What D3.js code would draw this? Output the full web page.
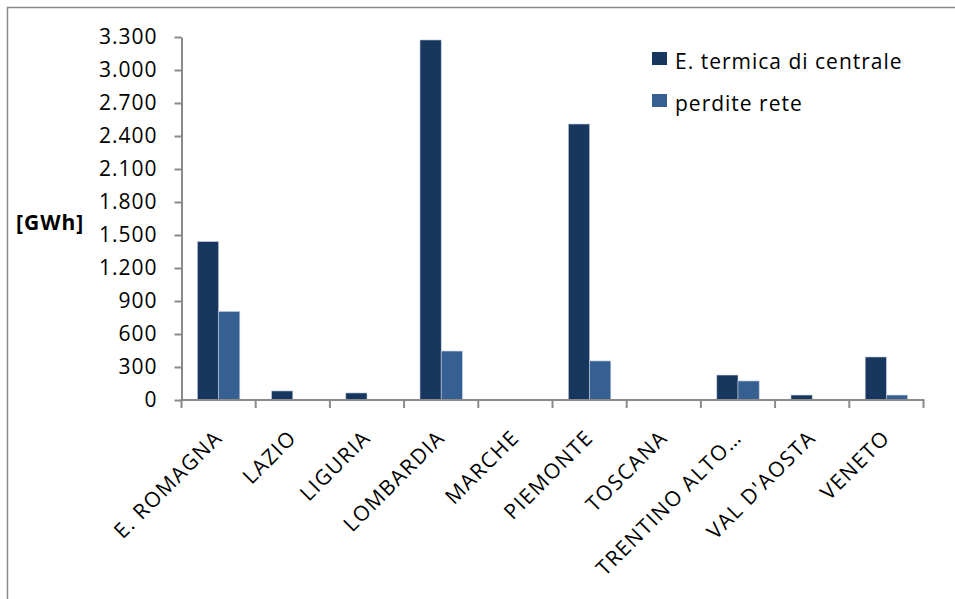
<!DOCTYPE html>
<html>
<head>
<meta charset="utf-8">
<script src="https://cdn.jsdelivr.net/npm/d3@7"></script>
<style>
  html, body { margin: 0; padding: 0; background: #fff; }
  svg { display: block; font-family: "Open Sans", Lato, sans-serif; }
</style>
</head>
<body>
<svg id="chart" width="955" height="599"></svg>
<script>
// Regions and series (GWh)
const regions = ["E. ROMAGNA", "LAZIO", "LIGURIA", "LOMBARDIA", "MARCHE", "PIEMONTE", "TOSCANA", "TRENTINO ALTO…", "VAL D'AOSTA", "VENETO"];
const seriesNames = ["E. termica di centrale", "perdite rete"];
const termica = [1440, 82, 64, 3273, 2, 2509, 0, 227, 45, 391];
const perdite = [805, 3, 3, 445, 2, 355, 0, 173, 3, 45];
const yTicks = [0, 300, 600, 900, 1200, 1500, 1800, 2100, 2400, 2700, 3000, 3300];
const seriesColors = ["#17375E", "#376092"];

const values = [termica, perdite];
const rows = regions.map((r, i) => ({ region: r, vals: seriesNames.map((s, k) => ({ key: s, value: values[k][i], k })) }));

const svg = d3.select("#chart");
const plotLeft = 181.5, plotRight = 923.5, plotTop = 37, plotBottom = 400;

// Outer chart frame
svg.append("rect")
  .attr("x", 7.5).attr("y", 7.5)
  .attr("width", 1200).attr("height", 1200)
  .attr("fill", "none").attr("stroke", "#8a8a8a").attr("stroke-width", 1.5);

const x0 = d3.scaleBand().domain(regions).range([plotLeft, plotRight]).paddingInner(0).paddingOuter(0);
const x1 = d3.scaleBand().domain(seriesNames).range([0, x0.bandwidth()]).paddingInner(0).paddingOuter(0.75);
const y = d3.scaleLinear().domain([0, 3300]).range([plotBottom, plotTop]);

const locale = d3.formatLocale({ decimal: ",", thousands: ".", grouping: [3], currency: ["", ""] });
const fmt = locale.format(",");

// Bars
const groups = svg.append("g").selectAll("g").data(rows).join("g")
  .attr("transform", d => `translate(${x0(d.region)},0)`);
groups.selectAll("rect").data(d => d.vals).join("rect")
  .attr("x", d => x1(d.key))
  .attr("y", d => y(d.value))
  .attr("width", x1.bandwidth())
  .attr("height", d => y(0) - y(d.value))
  .attr("fill", d => seriesColors[d.k])
  .attr("stroke", "#c3cedd").attr("stroke-width", 0.6);

// Y axis
const yAxis = svg.append("g")
  .attr("transform", `translate(${plotLeft},0)`)
  .call(d3.axisLeft(y).tickValues(yTicks).tickFormat(fmt).tickSize(7).tickPadding(17).tickSizeOuter(0))
  .attr("font-family", null).attr("font-size", null);
yAxis.select(".domain").attr("stroke", "#8a8a8a").attr("stroke-width", 2);
yAxis.selectAll(".tick line").attr("stroke", "#8a8a8a").attr("stroke-width", 2);
yAxis.selectAll(".tick text")
  .attr("font-size", 21).attr("letter-spacing", 1).attr("fill", "#000");

// X axis with ticks on category boundaries
const boundaries = regions.map(r => x0(r)).concat([plotRight]);
const xAxis = svg.append("g");
xAxis.append("line")
  .attr("x1", plotLeft - 1).attr("x2", plotRight + 1)
  .attr("y1", plotBottom).attr("y2", plotBottom)
  .attr("stroke", "#8a8a8a").attr("stroke-width", 2);
xAxis.selectAll("line.tk").data(boundaries).join("line")
  .attr("class", "tk")
  .attr("x1", d => d).attr("x2", d => d)
  .attr("y1", plotBottom).attr("y2", plotBottom + 8)
  .attr("stroke", "#8a8a8a").attr("stroke-width", 2);
xAxis.selectAll("text").data(regions).join("text")
  .attr("transform", d => `translate(${x0(d) + x0.bandwidth() / 2 + 5},${plotBottom + 39}) rotate(-45)`)
  .attr("text-anchor", "end")
  .attr("font-size", 21)
  .attr("letter-spacing", 1.4)
  .attr("fill", "#000")
  .text(d => d);

// Y axis title
svg.append("text")
  .attr("x", 16).attr("y", 230)
  .attr("font-size", 21).attr("font-weight", "bold").attr("letter-spacing", 1)
  .text("[GWh]");

// Legend
const legend = svg.append("g").selectAll("g").data(seriesNames).join("g")
  .attr("transform", (d, i) => `translate(652,${52 + i * 42})`);
legend.append("rect")
  .attr("width", 15).attr("height", 13)
  .attr("fill", (d, i) => seriesColors[i]);
legend.append("text")
  .attr("x", 23).attr("y", 17)
  .attr("font-size", 21)
  .attr("letter-spacing", 1)
  .attr("fill", "#000")
  .text(d => d);
</script>
</body>
</html>
